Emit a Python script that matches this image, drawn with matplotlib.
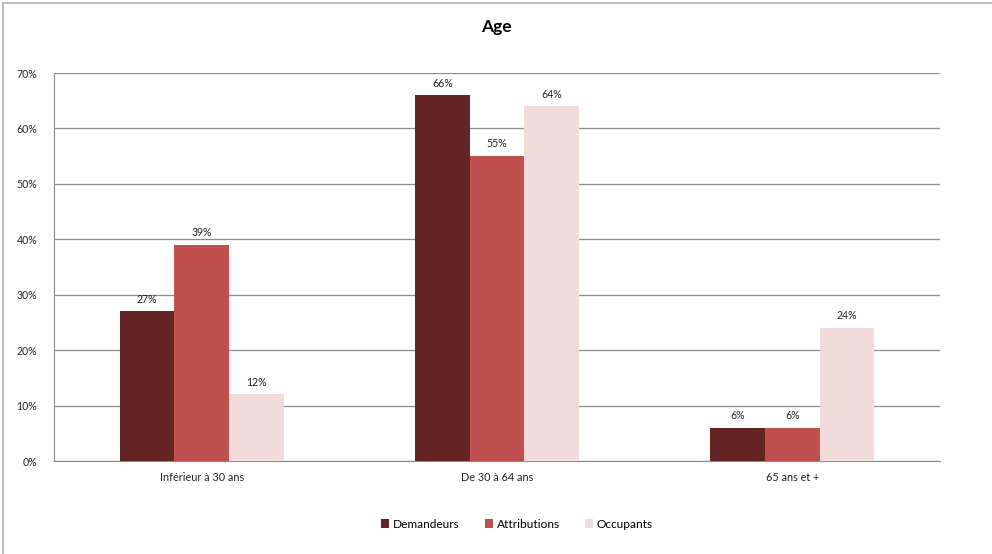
import numpy as np
import matplotlib.pyplot as plt
from matplotlib.lines import Line2D

plt.rcParams['font.family'] = ['Lato', 'DejaVu Sans']

categories = ['Inférieur à 30 ans', 'De 30 à 64 ans', '65 ans et +']
series_names = ['Demandeurs', 'Attributions', 'Occupants']
demandeurs = [27, 66, 6]
attributions = [39, 55, 6]
occupants = [12, 64, 24]
colors = ['#632423', '#C0504D', '#F2DCDB']
yticks = [0, 10, 20, 30, 40, 50, 60, 70]

fig = plt.figure(figsize=(9.92, 5.54), dpi=100)
ax = fig.add_axes([54 / 992, 1 - 461 / 554, 886 / 992, 388 / 554])

x = np.arange(len(categories))
w = 0.185
for i, (vals, name, c) in enumerate(zip([demandeurs, attributions, occupants], series_names, colors)):
    pos = x + (i - 1) * w
    ax.bar(pos, vals, width=w, color=c, label=name, zorder=3)
    for p, v in zip(pos, vals):
        ax.text(p, v + 1.2, f'{v}%', ha='center', va='bottom', fontsize=7.6, color='#222222')

ax.set_xlim(-0.5, 2.5)
ax.set_ylim(0, 70)
ax.set_yticks(yticks)
ax.set_yticklabels([f'{t}%' for t in yticks], fontsize=7.6, color='#222222')
ax.set_xticks(x)
ax.set_xticklabels(categories, fontsize=7.8, color='#222222')
ax.tick_params(axis='both', length=0, pad=8)
ax.tick_params(axis='y', pad=12)
ax.yaxis.grid(True, color='#8c8c8c', linewidth=0.9, zorder=0)
for s in ['top', 'right']:
    ax.spines[s].set_visible(False)
ax.spines['left'].set_color('#8c8c8c')
ax.spines['bottom'].set_color('#8c8c8c')

fig.text(496 / 992, 1 - 27 / 554, 'Age', ha='center', va='center', fontsize=12.5, fontweight='bold')

fig.legend(loc='center', bbox_to_anchor=(517 / 992, 1 - 524 / 554), ncol=3, frameon=False,
           fontsize=8.6, handlelength=0.7, handleheight=0.7, handletextpad=0.3, columnspacing=2.1)

# thin frame on the top and left edges
fig.add_artist(Line2D([3 / 992, 3 / 992], [0, 1 - 3 / 554], color='#b0b0b0', linewidth=1.2,
                      transform=fig.transFigure))
fig.add_artist(Line2D([3 / 992, 1], [1 - 3 / 554, 1 - 3 / 554], color='#b0b0b0', linewidth=1.2,
                      transform=fig.transFigure))

fig.savefig('out.png', dpi=100)
